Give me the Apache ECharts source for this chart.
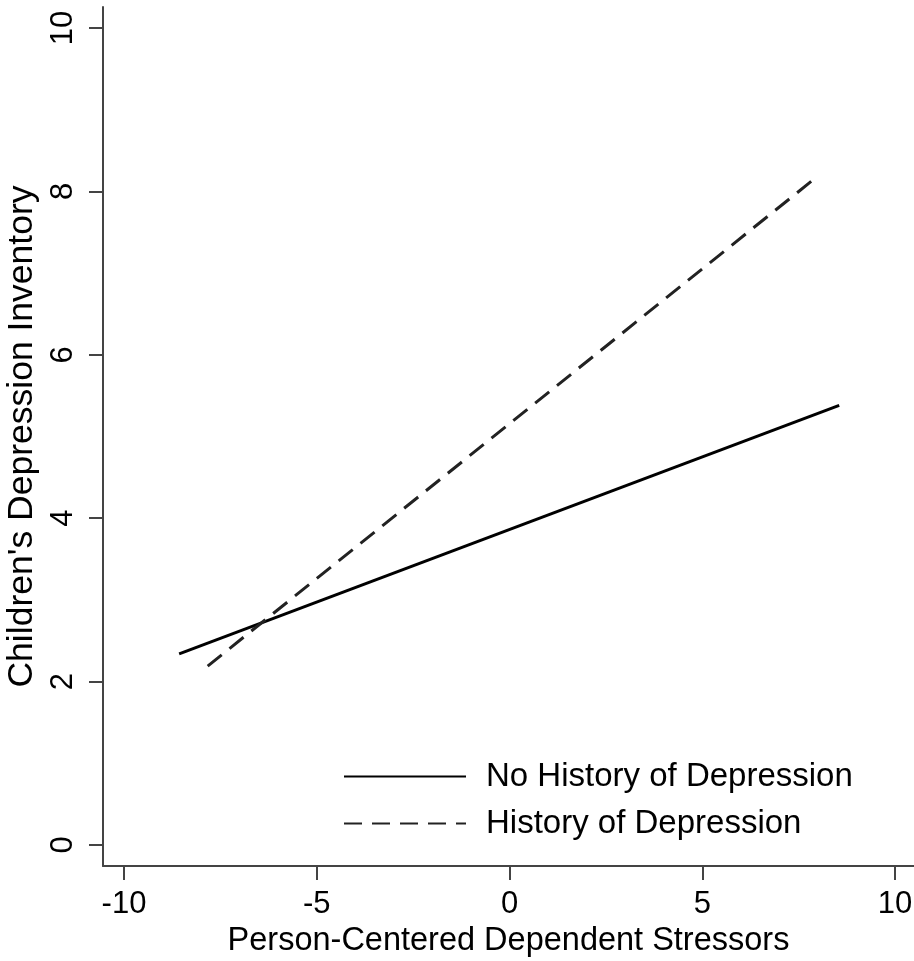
<!DOCTYPE html>
<html>
<head>
<meta charset="utf-8">
<script src="https://cdn.jsdelivr.net/npm/echarts@6/dist/echarts.min.js"></script>
<style>html,body{margin:0;padding:0;background:#fff}#c{width:914px;height:961px}</style>
</head>
<body>
<div id="c"></div>
<script>
var seriesNames = ['No History of Depression', 'History of Depression'];
var noHistoryData = [[-8.57, 2.34], [8.55, 5.38]];
var historyData = [[-7.83, 2.19], [7.95, 8.17]];
var xTicks = [-10, -5, 0, 5, 10];
var yTicks = [0, 2, 4, 6, 8, 10];
var xTitle = 'Person-Centered Dependent Stressors';
var yTitle = "Children's Depression Inventory";

var font = "'Liberation Sans', Arial, Helvetica, sans-serif";
var chart = echarts.init(document.getElementById('c'), null, {renderer: 'canvas'});
var axisCommon = {
  axisLine: {show: true, onZero: false, lineStyle: {color: '#444', width: 2}},
  splitLine: {show: false},
  nameLocation: 'middle'
};
chart.setOption({
  animation: false,
  backgroundColor: '#fff',
  grid: {left: 103, right: 0, top: 7, bottom: 95, containLabel: false, outerBoundsMode: 'none'},
  legend: {
    orient: 'vertical', left: 343, top: 760, padding: 0,
    itemWidth: 122, itemHeight: 30, itemGap: 14,
    itemStyle: {opacity: 0},
    textStyle: {color: '#000', fontSize: 33, fontFamily: font, padding: [0, 0, 0, 15]},
    data: seriesNames
  },
  xAxis: Object.assign({}, axisCommon, {
    type: 'value', min: -10.545, max: 10.49, interval: 5,
    name: xTitle, nameGap: 55,
    nameTextStyle: {color: '#000', fontSize: 32.5, fontFamily: font},
    axisLabel: {color: '#000', fontSize: 31, fontFamily: font, margin: 23,
      customValues: xTicks, formatter: function (v) { return String(v); }},
    axisTick: {show: true, length: 14, customValues: xTicks, lineStyle: {color: '#444', width: 2}}
  }),
  yAxis: Object.assign({}, axisCommon, {
    type: 'value', min: -0.257, max: 10.257,
    name: yTitle, nameGap: 56,
    nameTextStyle: {color: '#000', fontSize: 35.5, fontFamily: font},
    axisLabel: {color: '#000', fontSize: 31, fontFamily: font, margin: 24, rotate: 90,
      customValues: yTicks, formatter: function (v) { return String(v); }},
    axisTick: {show: true, length: 14, customValues: yTicks, lineStyle: {color: '#444', width: 2}}
  }),
  series: [
    {name: seriesNames[0], type: 'line', data: noHistoryData, showSymbol: false, symbol: 'none',
      lineStyle: {color: '#000', width: 3, type: 'solid'}, itemStyle: {color: '#000'}},
    {name: seriesNames[1], type: 'line', data: historyData, showSymbol: false, symbol: 'none',
      lineStyle: {color: '#222', width: 3, type: [18, 10]}, itemStyle: {color: '#222'}}
  ]
});
</script>
</body>
</html>
